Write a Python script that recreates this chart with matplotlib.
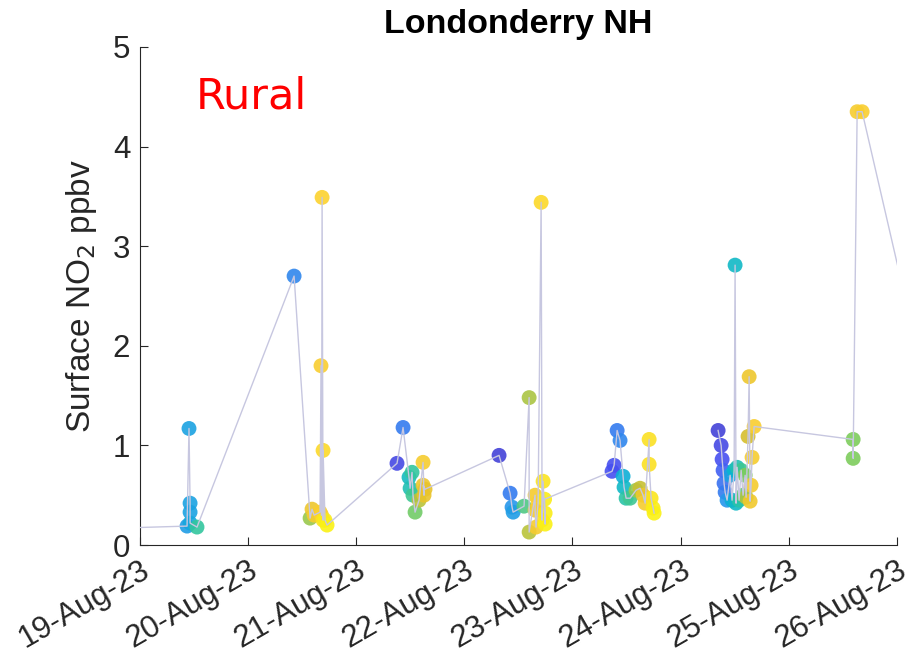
import numpy as np
import pandas as pd
import matplotlib
matplotlib.use('Agg')
import matplotlib.pyplot as plt
import matplotlib.dates as mdates
from matplotlib.colors import LinearSegmentedColormap

# time in days after 19-Aug-2023 00:00, NO2 in ppbv, colour value (0-1 on parula)
# nan row = gap in the connecting line (24 -> 25 Aug)
day_offset = [-0.50,
              0.435, 0.453, 0.463, 0.463, 0.463, 0.527,                         # 20-Aug
              1.425, 1.573, 1.591, 1.610, 1.665, 1.674, 1.679, 1.684, 1.693,
              1.693, 1.711, 1.730,                                              # 21-Aug
              2.377, 2.433, 2.488, 2.498, 2.516, 2.525, 2.544, 2.581, 2.618,
              2.627, 2.618, 2.636,                                              # 22-Aug
              3.321, 3.423, 3.441, 3.451, 3.552, 3.599, 3.599, 3.654, 3.654,
              3.663, 3.682, 3.710, 3.719, 3.728, 3.747, 3.747, 3.742,           # 23-Aug
              4.366, 4.385, 4.413, 4.440, 4.468, 4.477, 4.496, 4.533, 4.588,
              4.625, 4.653, 4.672, 4.709, 4.709, 4.727, 4.746, 4.755,           # 24-Aug
              5.000,
              5.347, 5.375, 5.384, 5.393, 5.402, 5.412, 5.430, 5.458, 5.476,
              5.495, 5.504, 5.513, 5.523, 5.541, 5.560, 5.578, 5.597, 5.606,
              5.624, 5.634, 5.643, 5.652, 5.661, 5.680,                         # 25-Aug
              6.596, 6.596, 6.633, 6.679,                                       # 26-Aug
              7.20]
no2 = [0.16,
       0.19, 1.17, 0.42, 0.33, 0.22, 0.18,
       2.70, 0.27, 0.36, 0.30, 0.33, 1.80, 0.30, 3.49, 0.25,
       0.95, 0.25, 0.20,
       0.82, 1.18, 0.68, 0.57, 0.73, 0.50, 0.33, 0.45, 0.83,
       0.50, 0.60, 0.56,
       0.90, 0.52, 0.38, 0.33, 0.39, 1.48, 0.13, 0.50, 0.35,
       0.18, 0.42, 3.44, 0.25, 0.64, 0.21, 0.32, 0.46,
       0.74, 0.80, 1.15, 1.05, 0.69, 0.58, 0.47, 0.47, 0.55,
       0.57, 0.50, 0.42, 1.06, 0.81, 0.47, 0.37, 0.32,
       np.nan,
       1.15, 1.00, 0.86, 0.75, 0.62, 0.53, 0.45, 0.70, 0.45,
       0.75, 2.81, 0.42, 0.78, 0.45, 0.75, 0.50, 0.70, 0.48,
       1.09, 1.69, 0.44, 0.60, 0.88, 1.19,
       1.06, 0.87, 4.35, 4.35,
       1.90]
colour = [0.20,
          0.28, 0.30, 0.30, 0.30, 0.32, 0.50,
          0.22, 0.66, 0.82, 0.85, 0.86, 0.86, 0.88, 0.88, 0.93,
          0.90, 0.95, 0.97,
          0.10, 0.20, 0.42, 0.45, 0.50, 0.52, 0.60, 0.70, 0.85,
          0.80, 0.82, 0.80,
          0.08, 0.20, 0.25, 0.28, 0.55, 0.68, 0.70, 0.84, 0.84,
          0.85, 0.87, 0.90, 0.92, 0.93, 0.97, 0.96, 0.96,
          0.12, 0.12, 0.20, 0.22, 0.35, 0.40, 0.48, 0.52, 0.65,
          0.72, 0.82, 0.85, 0.92, 0.92, 0.94, 0.96, 0.97,
          np.nan,
          0.08, 0.10, 0.12, 0.15, 0.18, 0.20, 0.25, 0.30, 0.35,
          0.38, 0.40, 0.40, 0.45, 0.48, 0.52, 0.58, 0.62, 0.68,
          0.74, 0.82, 0.83, 0.84, 0.85, 0.86,
          0.62, 0.62, 0.85, 0.86,
          0.86]

# rough copy of matlab's parula
parula = LinearSegmentedColormap.from_list('parula', [
    (0.2422, 0.1504, 0.6603), (0.2810, 0.3228, 0.9579), (0.1540, 0.5902, 0.9218),
    (0.0297, 0.7082, 0.8163), (0.1938, 0.7758, 0.6251), (0.5044, 0.7993, 0.3480),
    (0.8634, 0.7406, 0.1596), (0.9892, 0.8136, 0.1885), (0.9763, 0.9831, 0.0538)])

t = pd.Timestamp('2023-08-19') + pd.to_timedelta(day_offset, unit='D')

plt.rcParams['font.family'] = ['Liberation Sans', 'DejaVu Sans']
fig = plt.figure(figsize=(9.17, 6.58), dpi=100)
ax = fig.add_axes([0.1527, 0.1717, 0.8253, 0.7569])

ax.scatter(t, no2, c=colour, cmap=parula, vmin=0, vmax=1, s=115,
           edgecolors='none', alpha=0.9, zorder=2)
ax.plot(t, no2, color=(0.78, 0.78, 0.88), lw=1.0, zorder=3)

ax.set_xlim(pd.Timestamp('2023-08-19'), pd.Timestamp('2023-08-26'))
ax.set_ylim(0, 5)
ax.set_yticks(range(6))
ax.xaxis.set_major_locator(mdates.DayLocator())
ax.xaxis.set_major_formatter(mdates.DateFormatter('%d-%b-%y'))
for lab in ax.get_xticklabels():
    lab.set_rotation(30)
    lab.set_ha('right')
    lab.set_va('top')
    lab.set_rotation_mode('anchor')

for s in ['top', 'right']:
    ax.spines[s].set_visible(False)
for s in ['left', 'bottom']:
    ax.spines[s].set_color('#262626')
ax.tick_params(direction='in', length=6, width=0.8, colors='#262626',
               labelsize=22.5, pad=7)

ax.set_ylabel('Surface NO$_2$ ppbv', fontsize=24, color='#262626', labelpad=10)
ax.set_title('Londonderry NH', fontsize=24.5, fontweight='bold', pad=10)
ax.text(0.073, 0.877, 'Rural', transform=ax.transAxes, color='red',
        fontsize=31, family='DejaVu Sans', va='baseline')

fig.savefig('out.png', dpi=100)
